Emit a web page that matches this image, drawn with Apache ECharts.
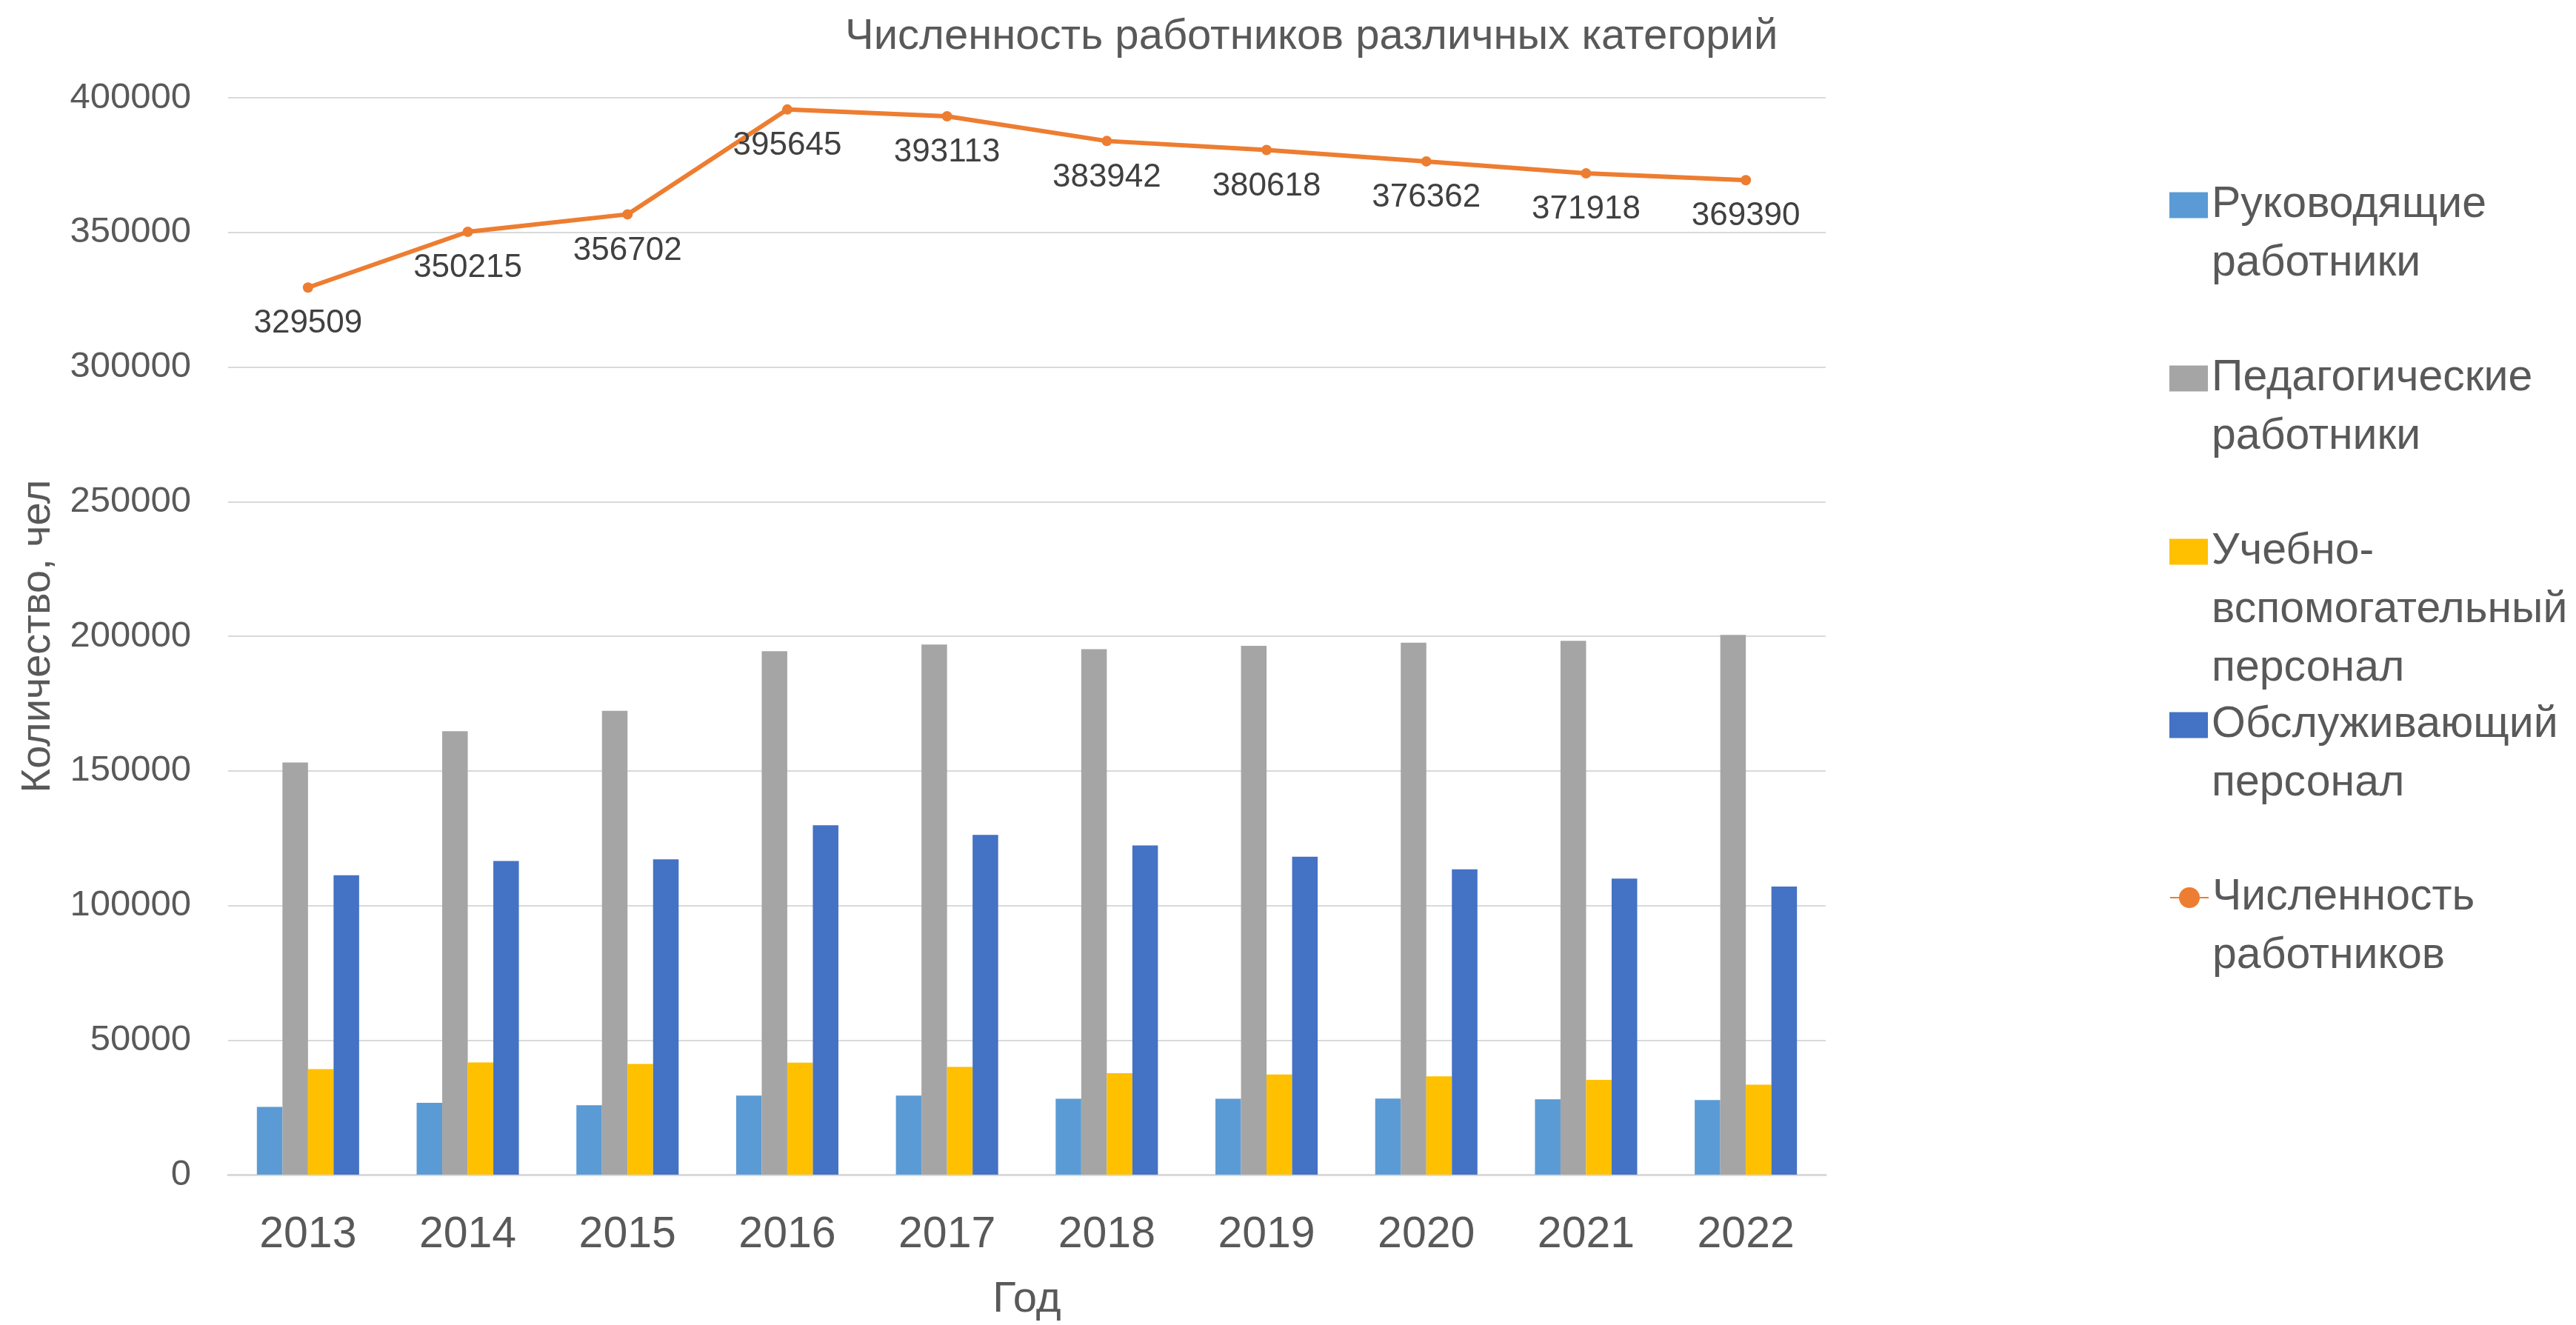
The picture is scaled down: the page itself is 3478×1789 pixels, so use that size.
<!DOCTYPE html>
<html lang="ru">
<head>
    <meta charset="UTF-8">
    <title>Численность работников</title>
    <script src="https://cdn.jsdelivr.net/npm/echarts@6/dist/echarts.min.js"></script>
    <style>
        body { margin: 0; background: #ffffff; }
        #box { width: 3478px; height: 1789px; }
    </style>
</head>
<body>
<div id="box"></div>
<script>
    // данные
    var years = ['2013', '2014', '2015', '2016', '2017', '2018', '2019', '2020', '2021', '2022'];
    var rukovod = [25200, 26700, 25800, 29400, 29400, 28200, 28200, 28300, 28000, 27700];
    var pedagog = [153100, 164700, 172300, 194400, 196900, 195200, 196400, 197600, 198300, 200500];
    var uchebn = [39200, 41700, 41100, 41600, 40000, 37700, 37200, 36500, 35200, 33400];
    var obsluzh = [111200, 116500, 117100, 129800, 126200, 122300, 118100, 113400, 110000, 107000];
    var total = [329509, 350215, 356702, 395645, 393113, 383942, 380618, 376362, 371918, 369390];

    var names = [
        'Руководящие\nработники',
        'Педагогические\nработники',
        'Учебно-\nвспомогательный\nперсонал',
        'Обслуживающий\nперсонал',
        'Численность\nработников'
    ];
    var colors = ['#5B9BD5', '#A5A5A5', '#FFC000', '#4472C4', '#ED7D31'];

    var font = 'Liberation Sans';
    var lh = 79;
    var legendCenters = [277, 511, 745, 979, 1212];

    // значок легенды должен стоять напротив первой строки подписи,
    // поэтому сверху добавляются пустые строки
    var legends = names.map(function (name, i) {
        var n = name.split('\n').length;
        var pad = new Array(n).join('\n');
        return {
            data: [i < 4 ? {name: name, icon: 'rect'} : name],
            orient: 'vertical',
            left: 2929,
            top: legendCenters[i] - (2 * n - 1) * lh / 2,
            padding: 0,
            itemWidth: 52,
            itemHeight: 35,
            selectedMode: false,
            formatter: function (s) { return pad + s; },
            textStyle: {fontFamily: font, fontSize: 59, color: '#595959', lineHeight: lh}
        };
    });

    var barData = [rukovod, pedagog, uchebn, obsluzh];
    var series = barData.map(function (d, i) {
        return {
            name: names[i],
            type: 'bar',
            data: d,
            barGap: '0%',
            barCategoryGap: '36%',
            itemStyle: {color: colors[i]}
        };
    });
    series.push({
        name: names[4],
        type: 'line',
        data: total,
        symbol: 'circle',
        symbolSize: 14,
        z: 5,
        lineStyle: {color: colors[4], width: 6},
        itemStyle: {color: colors[4]},
        label: {
            show: true,
            position: 'bottom',
            distance: 20,
            fontFamily: font,
            fontSize: 44,
            color: '#404040',
            formatter: function (p) { return String(p.value); }
        }
    });

    var mychart = echarts.init(document.getElementById('box'));
    var option = {
        animation: false,
        title: {
            text: 'Численность работников различных категорий',
            left: 1136,
            top: 16,
            textStyle: {fontFamily: font, fontSize: 58, fontWeight: 'normal', color: '#595959'}
        },
        legend: legends,
        grid: {left: 308, right: 1013, top: 132, bottom: 199},
        xAxis: {
            type: 'category',
            data: years,
            name: 'Год',
            nameLocation: 'middle',
            nameGap: 140,
            nameTextStyle: {fontFamily: font, fontSize: 58, color: '#595959'},
            axisTick: {show: false},
            axisLine: {lineStyle: {color: '#D9D9D9', width: 3}},
            axisLabel: {fontFamily: font, fontSize: 59, color: '#595959', margin: 52}
        },
        yAxis: {
            type: 'value',
            min: 0,
            max: 400000,
            interval: 50000,
            name: 'Количество, чел',
            nameLocation: 'middle',
            nameGap: 228,
            nameTextStyle: {fontFamily: font, fontSize: 56, color: '#595959'},
            axisLine: {show: false},
            axisTick: {show: false},
            splitLine: {lineStyle: {color: '#D9D9D9', width: 2}},
            axisLabel: {
                fontFamily: font, fontSize: 49, color: '#595959', margin: 50,
                formatter: function (v) { return String(v); }
            }
        },
        series: series
    };
    mychart.setOption(option);
</script>
</body>
</html>
